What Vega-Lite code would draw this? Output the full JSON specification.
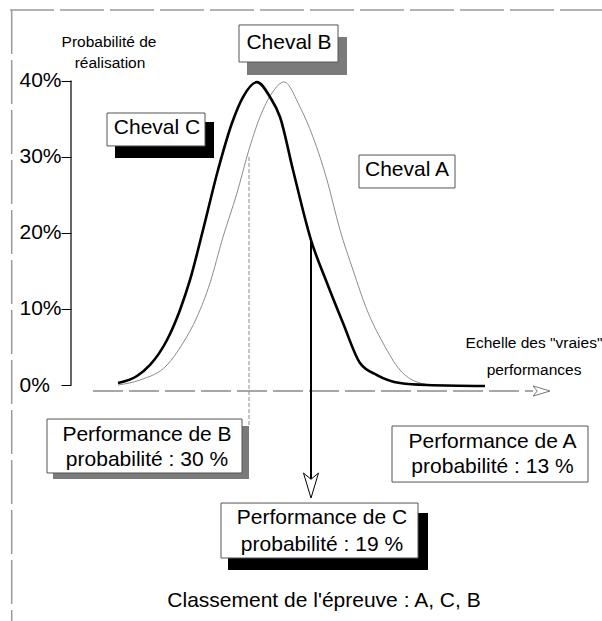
{
  "$schema": "https://vega.github.io/schema/vega-lite/v6.json",
  "width": 531,
  "height": 621,
  "autosize": {"type": "none"},
  "padding": {"left": 71, "top": 0, "right": 0, "bottom": 0},
  "background": "white",
  "config": {"view": {"stroke": null}, "font": "Liberation Sans", "text": {"font": "Liberation Sans"}},
  "datasets": {
    "courbes": [
      {"serie": "C", "x": 9.4, "y": 0.26}, {"serie": "C", "x": 13.2, "y": 1.18}, {"serie": "C", "x": 15.8, "y": 2.63},
      {"serie": "C", "x": 19.2, "y": 5.91}, {"serie": "C", "x": 21.8, "y": 9.86}, {"serie": "C", "x": 23.8, "y": 13.8},
      {"serie": "C", "x": 26.4, "y": 20.37}, {"serie": "C", "x": 29.4, "y": 28.25}, {"serie": "C", "x": 32.2, "y": 34.43},
      {"serie": "C", "x": 34.4, "y": 37.84}, {"serie": "C", "x": 37.2, "y": 39.8}, {"serie": "C", "x": 39.8, "y": 37.84},
      {"serie": "C", "x": 41.8, "y": 35.22}, {"serie": "C", "x": 44.4, "y": 28.25}, {"serie": "C", "x": 48.0, "y": 19.05},
      {"serie": "C", "x": 51.2, "y": 13.4}, {"serie": "C", "x": 54.4, "y": 8.15}, {"serie": "C", "x": 57.8, "y": 2.89},
      {"serie": "C", "x": 61.2, "y": 1.31}, {"serie": "C", "x": 65.8, "y": 0.26}, {"serie": "C", "x": 71.2, "y": 0},
      {"serie": "C", "x": 82.8, "y": -0.13},
      {"serie": "A", "x": 9.4, "y": 0}, {"serie": "A", "x": 13.8, "y": 0.66}, {"serie": "A", "x": 19.2, "y": 2.63},
      {"serie": "A", "x": 22.4, "y": 5.52}, {"serie": "A", "x": 25.2, "y": 8.94}, {"serie": "A", "x": 27.8, "y": 13.4},
      {"serie": "A", "x": 30.4, "y": 19.45}, {"serie": "A", "x": 33.2, "y": 25.23}, {"serie": "A", "x": 35.4, "y": 30.49},
      {"serie": "A", "x": 37.8, "y": 35.22}, {"serie": "A", "x": 40.2, "y": 38.37}, {"serie": "A", "x": 42.6, "y": 39.82},
      {"serie": "A", "x": 45.8, "y": 36.53}, {"serie": "A", "x": 48.4, "y": 32.59}, {"serie": "A", "x": 51.2, "y": 26.94},
      {"serie": "A", "x": 53.8, "y": 20.37}, {"serie": "A", "x": 56.4, "y": 15.11}, {"serie": "A", "x": 59.2, "y": 9.86},
      {"serie": "A", "x": 62.4, "y": 5.52}, {"serie": "A", "x": 65.8, "y": 1.97}, {"serie": "A", "x": 69.2, "y": 0.39},
      {"serie": "A", "x": 72.4, "y": 0}, {"serie": "A", "x": 82.8, "y": -0.13}
    ],
    "boites": [
      {"nom": "Cheval B", "genre": "ombre grise", "x": 35.2, "x2": 55.2, "y": 45.73, "y2": 40.74},
      {"nom": "Cheval B", "genre": "cadre", "x": 33.6, "x2": 53.4, "y": 47.31, "y2": 42.44},
      {"nom": "Cheval C", "genre": "ombre noire", "x": 8.8, "x2": 28.6, "y": 34.56, "y2": 29.83},
      {"nom": "Cheval C", "genre": "cadre", "x": 7.2, "x2": 26.8, "y": 35.74, "y2": 31.41},
      {"nom": "Cheval A", "genre": "cadre", "x": 57.6, "x2": 76.8, "y": 30.22, "y2": 25.89},
      {"nom": "Perf B", "genre": "ombre grise", "x": -3.6, "x2": 35.6, "y": -5.39, "y2": -12.35},
      {"nom": "Perf B", "genre": "cadre", "x": -4.8, "x2": 34.2, "y": -4.47, "y2": -11.56},
      {"nom": "Perf A", "genre": "cadre", "x": 64.2, "x2": 103.4, "y": -5.39, "y2": -12.75},
      {"nom": "Perf C", "genre": "ombre noire", "x": 31.4, "x2": 71.4, "y": -16.82, "y2": -24.31},
      {"nom": "Perf C", "genre": "cadre", "x": 30.0, "x2": 69.4, "y": -15.51, "y2": -22.73}
    ],
    "traits": [
      {"style": "cadre", "x": -12.2, "x2": 106.2, "y": 49.28, "y2": 49.28},
      {"style": "cadre", "x": -11.86, "x2": -11.86, "y": 49.28, "y2": -31.01},
      {"style": "base", "x": 4.4, "x2": 92.4, "y": -0.79, "y2": -0.79},
      {"style": "pointille", "x": 35.6, "x2": 35.6, "y": 29.96, "y2": -5.26},
      {"style": "axe", "x": 0, "x2": 0, "y": 0, "y2": 40},
      {"style": "fleche", "x": 48.0, "x2": 48.0, "y": 19.05, "y2": -12.35}
    ],
    "pointes": [
      {"style": "fleche", "x": 48.0, "y": -13.21},
      {"style": "base", "x": 94.1, "y": -0.79}
    ],
    "textes": [
      {"texte": "Cheval B", "taille": "grand", "x": 43.6, "y": 44.94},
      {"texte": "Cheval C", "taille": "grand", "x": 17.2, "y": 33.77},
      {"texte": "Cheval A", "taille": "grand", "x": 67.2, "y": 28.25},
      {"texte": "Performance de B", "taille": "grand", "x": 15.2, "y": -6.57},
      {"texte": "probabilité : 30 %", "taille": "grand", "x": 15.2, "y": -9.86},
      {"texte": "Performance de A", "taille": "grand", "x": 84.3, "y": -7.49},
      {"texte": "probabilité : 13 %", "taille": "grand", "x": 84.3, "y": -10.78},
      {"texte": "Performance de C", "taille": "grand", "x": 50.2, "y": -17.48},
      {"texte": "probabilité : 19 %", "taille": "grand", "x": 50.2, "y": -21.02},
      {"texte": "Classement de l'épreuve : A, C, B", "taille": "grand", "x": 50.6, "y": -28.38},
      {"texte": "Probabilité de", "taille": "petit", "x": 7.6, "y": 45.07},
      {"texte": "réalisation", "taille": "petit", "x": 7.8, "y": 42.31},
      {"texte": "Echelle des \"vraies\"", "taille": "petit", "x": 92.6, "y": 5.52},
      {"texte": "performances", "taille": "petit", "x": 92.6, "y": 1.97}
    ]
  },
  "encoding": {
    "x": {"field": "x", "type": "quantitative", "scale": {"domain": [0, 106.2], "nice": false, "zero": false}, "axis": null},
    "y": {
      "field": "y", "type": "quantitative",
      "scale": {"domain": [-31.01, 50.59], "nice": false, "zero": false},
      "axis": {
        "values": [0, 10, 20, 30, 40], "labelExpr": "datum.value + '%'", "title": null,
        "domain": false, "grid": false, "ticks": true, "tickSize": 10, "tickColor": "black", "tickWidth": 1,
        "labelAlign": "left", "labelPadding": 42, "labelFontSize": 21, "labelColor": "black",
        "labelFont": "Liberation Sans", "labelBaseline": "middle"
      }
    }
  },
  "layer": [
    {
      "data": {"name": "traits"},
      "transform": [{"filter": "datum.style == 'cadre'"}],
      "mark": {"type": "rule", "color": "#9a9a9a", "strokeWidth": 1.5, "strokeDash": [44, 6]},
      "encoding": {"x2": {"field": "x2"}, "y2": {"field": "y2"}}
    },
    {
      "data": {"name": "traits"},
      "transform": [{"filter": "datum.style == 'base'"}],
      "mark": {"type": "rule", "color": "#8a8a8a", "strokeWidth": 1.5, "strokeDash": [30, 6]},
      "encoding": {"x2": {"field": "x2"}, "y2": {"field": "y2"}}
    },
    {
      "data": {"name": "traits"},
      "transform": [{"filter": "datum.style == 'pointille'"}],
      "mark": {"type": "rule", "color": "#8a8a8a", "strokeWidth": 1, "strokeDash": [4, 2]},
      "encoding": {"x2": {"field": "x2"}, "y2": {"field": "y2"}}
    },
    {
      "data": {"name": "traits"},
      "transform": [{"filter": "datum.style == 'axe'"}],
      "mark": {"type": "rule", "color": "black", "strokeWidth": 1.2},
      "encoding": {"x2": {"field": "x2"}, "y2": {"field": "y2"}}
    },
    {
      "data": {"name": "courbes"},
      "transform": [{"filter": "datum.serie == 'A'"}],
      "mark": {"type": "line", "color": "#8c8c8c", "strokeWidth": 1, "interpolate": "monotone"}
    },
    {
      "data": {"name": "courbes"},
      "transform": [{"filter": "datum.serie == 'C'"}],
      "mark": {"type": "line", "color": "black", "strokeWidth": 2.6, "interpolate": "monotone"}
    },
    {
      "data": {"name": "traits"},
      "transform": [{"filter": "datum.style == 'fleche'"}],
      "mark": {"type": "rule", "color": "black", "strokeWidth": 2},
      "encoding": {"x2": {"field": "x2"}, "y2": {"field": "y2"}}
    },
    {
      "data": {"name": "pointes"},
      "transform": [{"filter": "datum.style == 'fleche'"}],
      "mark": {"type": "point", "shape": "M-0.6,-1L0,1L0.6,-1L0,-0.5Z", "size": 625, "filled": true, "fill": "white", "stroke": "black", "strokeWidth": 1, "opacity": 1}
    },
    {
      "data": {"name": "pointes"},
      "transform": [{"filter": "datum.style == 'base'"}],
      "mark": {"type": "point", "shape": "M-1,-0.6L1,0L-1,0.6L-0.5,0Z", "size": 289, "filled": true, "fill": "white", "stroke": "#777777", "strokeWidth": 1, "opacity": 1}
    },
    {
      "data": {"name": "boites"},
      "transform": [{"filter": "datum.genre == 'ombre grise'"}],
      "mark": {"type": "rect", "fill": "#7a7a7a"},
      "encoding": {"x2": {"field": "x2"}, "y2": {"field": "y2"}}
    },
    {
      "data": {"name": "boites"},
      "transform": [{"filter": "datum.genre == 'ombre noire'"}],
      "mark": {"type": "rect", "fill": "black"},
      "encoding": {"x2": {"field": "x2"}, "y2": {"field": "y2"}}
    },
    {
      "data": {"name": "boites"},
      "transform": [{"filter": "datum.genre == 'cadre'"}],
      "mark": {"type": "rect", "fill": "white", "stroke": "#555555", "strokeWidth": 1},
      "encoding": {"x2": {"field": "x2"}, "y2": {"field": "y2"}}
    },
    {
      "data": {"name": "textes"},
      "mark": {"type": "text", "align": "center", "baseline": "middle", "color": "black", "font": "Liberation Sans"},
      "encoding": {
        "text": {"field": "texte"},
        "size": {"field": "taille", "type": "nominal", "scale": {"domain": ["grand", "petit"], "range": [21, 15.5]}, "legend": null}
      }
    }
  ]
}
